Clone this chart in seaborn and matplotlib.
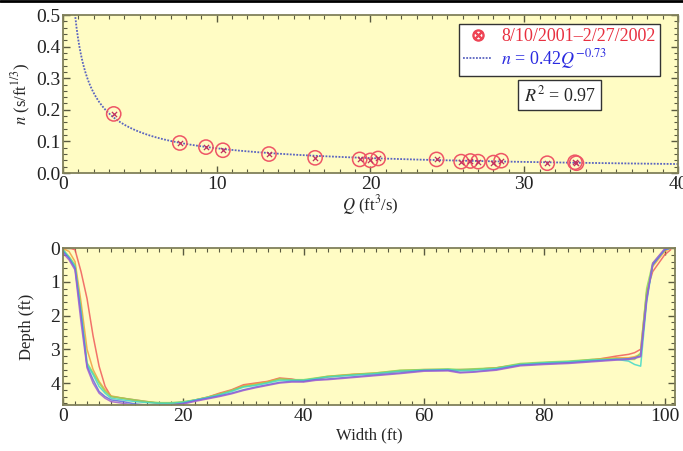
import numpy as np
import pandas as pd
import matplotlib
matplotlib.use("Agg")
import matplotlib.pyplot as plt
from matplotlib.lines import Line2D
from matplotlib.ticker import MultipleLocator, FormatStrFormatter
import seaborn as sns

# ---- Manning's n versus discharge ----
Q = [3.3, 7.6, 9.3, 10.4, 13.4, 16.4, 19.3, 20.0, 20.5, 24.3, 25.9, 26.5, 27.0,
     28.0, 28.5, 31.5, 33.3, 33.4]
n = [0.187, 0.095, 0.082, 0.072, 0.060, 0.048, 0.043, 0.040, 0.046, 0.043, 0.036,
     0.038, 0.036, 0.033, 0.039, 0.031, 0.034, 0.031]
fit_a, fit_b = 0.42, -0.73
r_squared = 0.97
period_label = "8/10/2001\u20132/27/2002"

# ---- Surveyed cross-section depth profiles ----
width = [0, 1, 2, 3, 4, 5, 6, 7, 8, 10, 12, 14, 16, 18, 20, 22, 24, 26, 28, 30,
         32, 34, 36, 38, 40, 42, 44, 48, 52, 56, 60, 64, 66, 68, 72, 76, 80, 84,
         88, 92, 94, 95, 96, 97, 98, 100, 101]
depth_red = [0.0, 0.0, 0.05, 0.7, 1.5, 2.6, 3.5, 4.1, 4.4, 4.45, 4.5, 4.55, 4.6, 4.6,
             4.58, 4.5, 4.42, 4.3, 4.2, 4.05, 4.0, 3.95, 3.85, 3.88, 3.95, 3.88, 3.82,
             3.75, 3.72, 3.65, 3.62, 3.62, 3.6, 3.6, 3.55, 3.45, 3.4, 3.38, 3.32, 3.2,
             3.15, 3.1, 3.0, 1.3, 0.7, 0.2, 0.05]
depth_orange = [0.02, 0.1, 0.4, 1.6, 3.0, 3.6, 3.95, 4.2, 4.38, 4.45, 4.52, 4.56, 4.6,
                4.6, 4.57, 4.5, 4.42, 4.32, 4.22, 4.08, 4.02, 3.96, 3.87, 3.9, 3.92,
                3.86, 3.8, 3.74, 3.7, 3.63, 3.6, 3.6, 3.62, 3.6, 3.55, 3.44, 3.4, 3.37,
                3.3, 3.25, 3.25, 3.22, 3.15, 1.4, 0.55, 0.1, 0.0]
depth_green = [0.05, 0.25, 0.5, 1.8, 3.4, 3.7, 4.0, 4.25, 4.4, 4.45, 4.5, 4.55, 4.58,
               4.58, 4.55, 4.5, 4.42, 4.33, 4.22, 4.1, 4.05, 3.98, 3.88, 3.9, 3.9,
               3.85, 3.8, 3.75, 3.7, 3.62, 3.6, 3.58, 3.6, 3.58, 3.55, 3.42, 3.38,
               3.35, 3.3, 3.28, 3.3, 3.3, 3.1, 1.2, 0.45, 0.05, 0.0]
depth_cyan = [0.05, 0.28, 0.55, 1.9, 3.45, 3.75, 4.1, 4.3, 4.45, 4.5, 4.55, 4.58, 4.6,
              4.6, 4.57, 4.5, 4.43, 4.35, 4.25, 4.12, 4.07, 4.0, 3.92, 3.92, 3.92,
              3.87, 3.82, 3.77, 3.72, 3.65, 3.62, 3.6, 3.63, 3.62, 3.57, 3.45, 3.4,
              3.37, 3.32, 3.3, 3.35, 3.45, 3.5, 1.6, 0.5, 0.05, 0.0]
depth_blue = [0.1, 0.3, 0.6, 2.0, 3.5, 3.9, 4.25, 4.4, 4.5, 4.55, 4.62, 4.65, 4.65,
              4.65, 4.6, 4.52, 4.45, 4.38, 4.3, 4.2, 4.12, 4.05, 3.98, 3.95, 3.95,
              3.9, 3.88, 3.82, 3.76, 3.7, 3.63, 3.62, 3.68, 3.67, 3.6, 3.47, 3.43,
              3.4, 3.35, 3.3, 3.28, 3.25, 3.2, 1.5, 0.5, 0.05, 0.0]
depth_purple = [0.15, 0.35, 0.65, 2.2, 3.55, 4.0, 4.3, 4.45, 4.55, 4.6, 4.66, 4.68,
                4.68, 4.66, 4.62, 4.54, 4.47, 4.4, 4.32, 4.22, 4.14, 4.07, 4.0, 3.97,
                3.97, 3.92, 3.9, 3.84, 3.78, 3.72, 3.65, 3.64, 3.7, 3.68, 3.62, 3.49,
                3.45, 3.42, 3.37, 3.32, 3.3, 3.27, 3.22, 1.55, 0.45, 0.02, 0.0]
survey_names = ["s1", "s2", "s3", "s4", "s5", "s6"]
survey_depths = [depth_red, depth_orange, depth_green, depth_cyan, depth_blue, depth_purple]
survey_colors = ["#f05a5a", "#f0a040", "#8ad85a", "#40d8c8", "#5a6ce8", "#a060d0"]

# ---- styling ----
sns.set_theme(style="ticks")
plt.rcParams["font.family"] = ["Liberation Serif", "DejaVu Serif"]
plt.rcParams["mathtext.fontset"] = "stix"
face = "#fffcc4"
frame = "#80805a"

fig = plt.figure(figsize=(6.83, 4.51), dpi=100)
ax1 = fig.add_axes([0.0922, 0.6164, 0.9004, 0.3503])
ax2 = fig.add_axes([0.0922, 0.1020, 0.8960, 0.3481])


def style_axes(ax):
    ax.set_facecolor(face)
    for sp in ax.spines.values():
        sp.set_color(frame)
        sp.set_linewidth(1.3)
    ax.tick_params(which="both", direction="in", top=True, right=True,
                   color="#5a5a40", labelsize=14, labelcolor="#222222", pad=2)
    ax.tick_params(which="major", length=5, width=1.0)
    ax.tick_params(which="minor", length=3, width=0.8)


# ---- top panel ----
fit_df = pd.DataFrame({"Q": np.linspace(0.78, 40, 400)})
fit_df["n"] = fit_a * fit_df["Q"] ** fit_b
obs_df = pd.DataFrame({"Q": Q, "n": n})

sns.lineplot(data=fit_df, x="Q", y="n", ax=ax1, color="#5a64c0", lw=1.3,
             linestyle=(0, (1, 0.8)), zorder=2)
sns.scatterplot(data=obs_df, x="Q", y="n", ax=ax1, s=105, facecolor="none",
                edgecolor="#ee5566", linewidth=1.1, zorder=3)
sns.scatterplot(data=obs_df, x="Q", y="n", ax=ax1, marker="x", s=14,
                color="#c03060", linewidth=0.9, zorder=4)

ax1.set_xlim(0, 40)
ax1.set_ylim(0, 0.5)
ax1.xaxis.set_major_locator(MultipleLocator(10))
ax1.xaxis.set_minor_locator(MultipleLocator(1))
ax1.yaxis.set_major_locator(MultipleLocator(0.1))
ax1.yaxis.set_minor_locator(MultipleLocator(0.02))
ax1.yaxis.set_major_formatter(FormatStrFormatter("%.1f"))
style_axes(ax1)
ax1.set_xlabel(r"$Q$ (ft$^3$/s)", fontsize=12, labelpad=0)
ax1.set_ylabel(r"$n$ (s/ft$^{1/3}$)", fontsize=12)
ax1.yaxis.set_label_coords(-0.049, 0.5)

handles = [
    Line2D([], [], linestyle="none", marker=r"$\otimes$", markersize=8,
           color="#ee4455"),
    Line2D([], [], color="#5a64c0", lw=1.3, linestyle=(0, (1, 0.8))),
]
labels = [period_label, r"$n$ = 0.42$Q^{-0.73}$"]
leg = ax1.legend(handles, labels, loc="upper right", bbox_to_anchor=(0.971, 0.945),
                 borderaxespad=0, fontsize=13, frameon=True, fancybox=False,
                 handlelength=1.6, handletextpad=0.5, borderpad=0.25,
                 labelspacing=0.1)
leg.get_frame().set_edgecolor("#333333")
leg.get_frame().set_linewidth(1.0)
leg.get_frame().set_facecolor("white")
leg.get_frame().set_alpha(1)
leg.get_texts()[0].set_color("#e83040")
leg.get_texts()[1].set_color("#2a2ae0")

ax1.text(0.808, 0.494, rf"$R^2$ = {r_squared:.2f}", transform=ax1.transAxes,
         ha="center", va="center", fontsize=13,
         bbox=dict(boxstyle="square,pad=0.3", facecolor="white",
                   edgecolor="#333333", linewidth=1.0))

# ---- bottom panel ----
prof = pd.concat(
    [pd.DataFrame({"Width": width, "Depth": d, "survey": nm})
     for nm, d in zip(survey_names, survey_depths)],
    ignore_index=True)
sns.lineplot(data=prof, x="Width", y="Depth", hue="survey", ax=ax2,
             palette=dict(zip(survey_names, survey_colors)), lw=1.1, alpha=0.85,
             legend=False, sort=False, estimator=None)
ax2.set_xlim(0, 101.7)
ax2.set_ylim(4.65, 0)
ax2.xaxis.set_major_locator(MultipleLocator(20))
ax2.xaxis.set_minor_locator(MultipleLocator(2))
ax2.yaxis.set_major_locator(MultipleLocator(1))
ax2.yaxis.set_minor_locator(MultipleLocator(0.2))
style_axes(ax2)
ax2.set_xlabel("Width (ft)", fontsize=12, labelpad=2)
ax2.set_ylabel("Depth (ft)", fontsize=12)
ax2.yaxis.set_label_coords(-0.046, 0.5)

fig.add_artist(Line2D([0, 1], [0.998, 0.998], transform=fig.transFigure,
                      color="black", lw=2))

fig.savefig("out.png", dpi=100)
